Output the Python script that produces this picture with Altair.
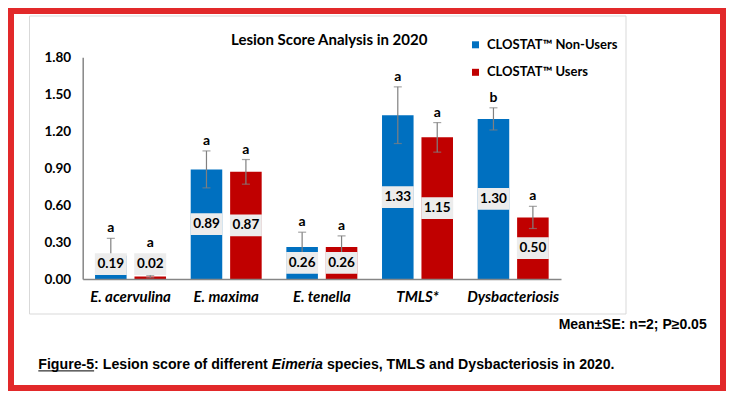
import altair as alt
import pandas as pd
import numpy as np

categories = ["E. acervulina", "E. maxima", "E. tenella", "TMLS*", "Dysbacteriosis"]
groups = ["CLOSTAT™ Non-Users", "CLOSTAT™ Users"]
nonusers = [0.19, 0.89, 0.26, 1.33, 1.30]
users = [0.02, 0.87, 0.26, 1.15, 0.50]
se_nonusers = [0.14, 0.15, 0.12, 0.23, 0.09]
se_users = [0.01, 0.10, 0.09, 0.12, 0.09]
letters_nonusers = ["a", "a", "a", "a", "b"]
letters_users = ["a", "a", "a", "a", "a"]
y_ticks = [0.0, 0.3, 0.6, 0.9, 1.2, 1.5, 1.8]

rows = []
for i, c in enumerate(categories):
    rows.append(dict(category=c, group=groups[0], value=nonusers[i], se=se_nonusers[i], letter=letters_nonusers[i]))
    rows.append(dict(category=c, group=groups[1], value=users[i], se=se_users[i], letter=letters_users[i]))
df = pd.DataFrame(rows)
df["lo"] = df["value"] - df["se"]
df["hi"] = df["value"] + df["se"]
df["label_y"] = np.maximum(df["value"] / 2, 0.12)
df["letter_y"] = np.maximum(df["hi"], df["label_y"] + 0.09)

W, H = 478.3, 221.7
FONT = "Lato"
ARIAL = "Liberation Sans"

x_enc = alt.X("category:N", sort=categories,
              scale=alt.Scale(paddingInner=0.258, paddingOuter=0.129),
              axis=alt.Axis(title=None, labelAngle=0, ticks=False, domainColor="#868686",
                            domainWidth=1.5, labelFont=FONT, labelFontSize=15,
                            labelFontWeight="bold", labelFontStyle="italic",
                            labelColor="#000000", labelPadding=10, zindex=1,
                            labelOverlap=False))
xo_enc = alt.XOffset("group:N", sort=groups, scale=alt.Scale(paddingInner=0.2, paddingOuter=0))
y_scale = alt.Scale(domain=[0, 1.8], nice=False)
y_axis = alt.Axis(title=None, values=y_ticks, format=".2f", grid=False, ticks=False,
                  domainColor="#868686", domainWidth=1.5, labelFont=FONT,
                  labelFontSize=13.5, labelFontWeight="bold", labelColor="#000000",
                  labelPadding=12, zindex=0, labelOverlap=False)


def Y(field):
    return alt.Y(field, scale=y_scale, axis=y_axis)


dummy = pd.DataFrame({"t": [0]})

frame = alt.Chart(dummy).mark_rect(filled=False, fillOpacity=0, stroke="#e2292a", strokeWidth=6).encode(
    x=alt.value(-71.7), x2=alt.value(640.3), y=alt.value(-46.3), y2=alt.value(330.7))

box = alt.Chart(dummy).mark_rect(filled=False, fillOpacity=0, stroke="#d9d9d9", strokeWidth=1).encode(
    x=alt.value(-53.2), x2=alt.value(543.3), y=alt.value(-41.3), y2=alt.value(256.7))

base = alt.Chart(df).encode(x=x_enc, xOffset=xo_enc)

bars = base.mark_bar().encode(
    y=Y("value:Q"),
    color=alt.Color("group:N", sort=groups,
                    scale=alt.Scale(domain=groups, range=["#0070C0", "#C00000"]),
                    legend=alt.Legend(title=None, orient="none", legendX=386.3, legendY=-19,
                                      symbolType="square", symbolSize=49, symbolStrokeWidth=0,
                                      labelFont=FONT, labelFontSize=13, labelFontWeight="bold",
                                      labelColor="#000000", labelOffset=5, rowPadding=13.5,
                                      padding=0)))

err = base.mark_rule(color="#808080", strokeWidth=1.2).encode(y=Y("lo:Q"), y2="hi:Q")
cap_hi = base.mark_tick(orient="horizontal", size=8, thickness=1.2, color="#808080").encode(y=Y("hi:Q"))
cap_lo = base.mark_tick(orient="horizontal", size=8, thickness=1.2, color="#808080").encode(y=Y("lo:Q"))

label_box = base.mark_point(shape="M-1,-0.68H1V0.68H-1Z", size=1024, filled=True,
                            fill="#ececec", opacity=1, strokeWidth=0).encode(y=Y("label_y:Q"))
label_txt = base.mark_text(font=FONT, fontSize=13.5, fontWeight="bold", color="#000000",
                           baseline="middle").encode(y=Y("label_y:Q"),
                                                     text=alt.Text("value:Q", format=".2f"))
letter_txt = base.mark_text(font=FONT, fontSize=14, fontWeight="bold", color="#000000",
                            baseline="middle", dy=-10).encode(y=Y("letter_y:Q"), text="letter:N")

title = alt.Chart(dummy).mark_text(text="Lesion Score Analysis in 2020", font=FONT, fontSize=15,
                                   fontWeight="bold", color="#000000", align="center",
                                   baseline="alphabetic").encode(x=alt.value(246.5), y=alt.value(-12.3))

foot = alt.Chart(dummy).mark_text(text="Mean±SE: n=2; P≥0.05", font=ARIAL, fontSize=14,
                                  fontWeight="bold", color="#000000", align="right",
                                  baseline="alphabetic").encode(x=alt.value(624), y=alt.value(272))

cap_y = 312
fs = 14.15
x0 = 38.3 - 82.7
w_fig = 3.945 * fs
w_colon = 12.558 * fs
w_eim = 3.613 * fs
w_space = 0.278 * fs
cap_parts = [
    ("Figure-5", x0, "normal"),
    (": Lesion score of different", x0 + w_fig, "normal"),
    ("Eimeria", x0 + w_fig + w_colon, "italic"),
    ("species, TMLS and Dysbacteriosis in 2020.", x0 + w_fig + w_colon + w_eim + w_space, "normal"),
]
cap_layers = []
for txt, xp, style in cap_parts:
    cap_layers.append(alt.Chart(dummy).mark_text(text=txt, font=ARIAL, fontSize=fs, fontWeight="bold",
                                                 fontStyle=style, color="#000000", align="left",
                                                 baseline="alphabetic").encode(x=alt.value(xp), y=alt.value(cap_y)))
underline = alt.Chart(dummy).mark_rule(color="#000000", strokeWidth=1).encode(
    x=alt.value(x0), x2=alt.value(x0 + w_fig), y=alt.value(cap_y + 1.6))

chart = alt.layer(frame, box, bars, err, cap_hi, cap_lo, label_box, label_txt, letter_txt,
                  title, foot, *cap_layers, underline).properties(
    width=W, height=H,
    autosize=alt.AutoSizeParams(type="none"),
    padding={"left": 74.7, "top": 49.3, "right": 165, "bottom": 112},
    background="white",
).configure_view(stroke=None).configure_axis(labelOverlap=False)

chart.save("out.html", embed_options={"renderer": "svg", "actions": False})
